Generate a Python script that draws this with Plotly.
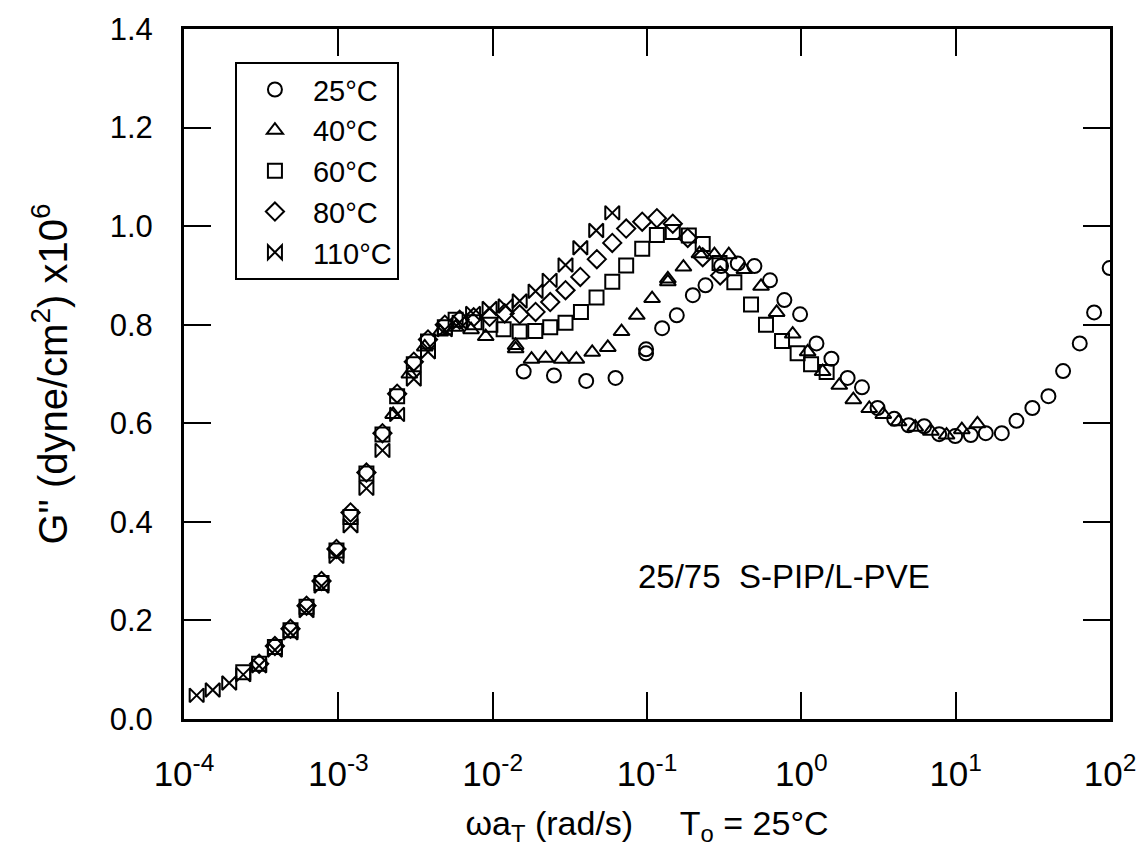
import plotly.graph_objects as go

# ---- data (log10 of omega*aT, G'' x1e-6) ----
x110 = [-3.918, -3.814, -3.707, -3.616, -3.513, -3.411, -3.31, -3.206, -3.109, -3.012, -2.921, -2.818,
        -2.714, -2.619, -2.511, -2.419, -2.31, -2.214, -2.127, -2.02, -1.916, -1.825, -1.722, -1.631,
        -1.528, -1.432, -1.329, -1.225]
y110 = [0.048, 0.059, 0.073, 0.090, 0.108, 0.140, 0.175, 0.220, 0.270, 0.330, 0.392, 0.468,
        0.545, 0.618, 0.690, 0.745, 0.790, 0.805, 0.823, 0.833, 0.838, 0.848, 0.868, 0.890,
        0.921, 0.956, 0.991, 1.027]

x80 = [-3.513, -3.411, -3.31, -3.206, -3.109, -3.012, -2.921, -2.818, -2.714, -2.619, -2.511, -2.419,
       -2.31, -2.214, -2.123, -2.02, -1.922, -1.825, -1.722, -1.627, -1.528, -1.432, -1.325, -1.225,
       -1.135, -1.031, -0.936, -0.833, -0.736, -0.639, -0.526]
y80 = [0.112, 0.148, 0.183, 0.230, 0.280, 0.345, 0.419, 0.500, 0.580, 0.660, 0.725, 0.770,
       0.800, 0.810, 0.815, 0.816, 0.823, 0.821, 0.826, 0.846, 0.870, 0.897, 0.933, 0.966,
       0.995, 1.009, 1.016, 1.005, 0.976, 0.937, 0.900]

x60 = [-3.616, -3.513, -3.411, -3.31, -3.206, -3.109, -3.012, -2.921, -2.818, -2.714, -2.619, -2.511,
       -2.419, -2.31, -2.24, -2.117, -2.015, -1.929, -1.825, -1.724, -1.627, -1.528, -1.428, -1.327,
       -1.225, -1.135, -1.031, -0.936, -0.833, -0.729, -0.639, -0.53, -0.434, -0.326, -0.229, -0.125,
       -0.024, 0.063, 0.164]
y60 = [0.095, 0.112, 0.146, 0.180, 0.228, 0.276, 0.342, 0.410, 0.498, 0.577, 0.655, 0.720,
       0.766, 0.795, 0.810, 0.805, 0.800, 0.791, 0.786, 0.787, 0.795, 0.804, 0.826, 0.855,
       0.887, 0.920, 0.954, 0.982, 0.988, 0.981, 0.964, 0.925, 0.886, 0.841, 0.800, 0.767,
       0.742, 0.720, 0.704]

x40 = [-2.645, -2.54, -2.44, -2.34, -2.24, -2.14, -2.045, -1.851, -1.851, -1.748, -1.657, -1.553,
       -1.458, -1.355, -1.254, -1.165, -1.066, -0.967, -0.865, -0.865, -0.764, -0.66, -0.563, -0.47,
       -0.369, -0.261, -0.16, -0.056, 0.041, 0.138, 0.246, 0.337, 0.44, 0.531, 0.63, 0.738, 0.839,
       0.941, 1.04, 1.141]
y40 = [0.618, 0.700, 0.755, 0.785, 0.795, 0.790, 0.776, 0.751, 0.758, 0.730, 0.732, 0.730,
       0.730, 0.744, 0.754, 0.786, 0.819, 0.853, 0.887, 0.893, 0.917, 0.944, 0.942, 0.942,
       0.912, 0.878, 0.825, 0.781, 0.745, 0.705, 0.677, 0.648, 0.630, 0.618, 0.603, 0.592, 0.584,
       0.576, 0.587, 0.599]

x25 = [-1.799, -1.603, -1.394, -1.204, -1.006, -1.006, -0.902, -0.807, -0.703, -0.621, -0.52, -0.412,
       -0.304, -0.203, -0.11, -0.008, 0.098, 0.195, 0.30, 0.393, 0.494, 0.602, 0.695, 0.796, 0.893,
       0.997, 1.098, 1.195, 1.299, 1.394, 1.497, 1.601, 1.696, 1.804, 1.897, 1.998]
y25 = [0.705, 0.697, 0.686, 0.692, 0.742, 0.750, 0.793, 0.819, 0.860, 0.880, 0.919, 0.924,
       0.919, 0.890, 0.850, 0.821, 0.762, 0.731, 0.692, 0.673, 0.631, 0.609, 0.596, 0.594, 0.578,
       0.574, 0.576, 0.580, 0.580, 0.605, 0.631, 0.655, 0.706, 0.762, 0.825, 0.915]

series_names = ["25°C", "40°C", "60°C", "80°C", "110°C"]
series_x = [x25, x40, x60, x80, x110]
series_y = [y25, y40, y60, y80, y110]
symbols = ["circle-open", "triangle-up-open", "square-open", "diamond-open", "bowtie-open"]

x_ticks = [-4, -3, -2, -1, 0, 1, 2]
x_ticktext = ["10<sup>-4</sup>", "10<sup>-3</sup>", "10<sup>-2</sup>", "10<sup>-1</sup>",
              "10<sup>0</sup>", "10<sup>1</sup>", "10<sup>2</sup>"]
y_ticks = [0.0, 0.2, 0.4, 0.6, 0.8, 1.0, 1.2, 1.4]

FONT = "Liberation Sans, Arial, sans-serif"

fig = go.Figure()
for name, xs, ys, sym in zip(series_names, series_x, series_y, symbols):
    fig.add_trace(go.Scatter(
        x=[10 ** v for v in xs], y=ys, mode="markers", name=name,
        marker=dict(symbol=sym, size=14, color="black", line=dict(color="black", width=2)),
    ))

fig.update_layout(
    width=1148, height=855,
    margin=dict(l=184, r=37, t=26, b=136),
    paper_bgcolor="white", plot_bgcolor="white",
    font=dict(family=FONT, size=30, color="black"),
    showlegend=True,
    legend=dict(x=0.055, y=0.952, xanchor="left", yanchor="top",
                bordercolor="black", borderwidth=2, bgcolor="white",
                font=dict(family=FONT, size=29), itemwidth=66, tracegroupgap=0,
                entrywidth=176),
    annotations=[dict(x=-0.11, y=0.29, xref="x", yref="y", text="25/75  S-PIP/L-PVE",
                      showarrow=False, font=dict(family=FONT, size=33))],
)
fig.update_xaxes(
    type="log", range=[-4, 2], tickvals=[10 ** v for v in x_ticks], ticktext=x_ticktext,
    ticks="inside", ticklen=27, tickwidth=2, tickcolor="black",
    showline=True, linewidth=3, linecolor="black", mirror="ticks",
    showgrid=False, zeroline=False, tickfont=dict(family=FONT, size=35),
    ticklabelstandoff=22,
    title=dict(text="ωa<sub>T</sub> (rad/s)     T<sub>o</sub> = 25°C",
               font=dict(family=FONT, size=34), standoff=20),
)
fig.update_yaxes(
    range=[0, 1.4], tickvals=y_ticks, tickformat=".1f",
    ticks="inside", ticklen=27, tickwidth=2, tickcolor="black",
    showline=True, linewidth=3, linecolor="black", mirror="ticks",
    showgrid=False, zeroline=False, tickfont=dict(family=FONT, size=31),
    ticklabelstandoff=22,
    title=dict(text="G\" (dyne/cm<sup>2</sup>) x10<sup>6</sup>", font=dict(family=FONT, size=40),
               standoff=30),
)

fig.write_html("out.html")
